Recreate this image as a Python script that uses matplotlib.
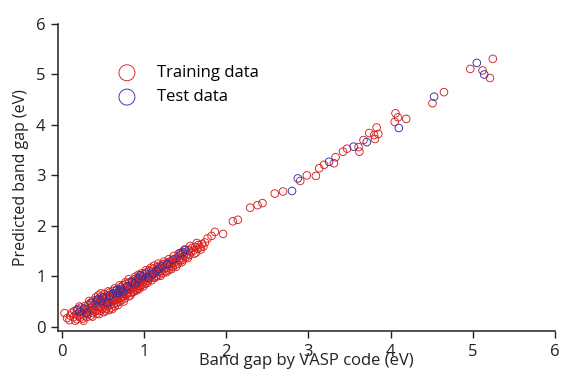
import numpy as np
import matplotlib
matplotlib.use("Agg")
import matplotlib.pyplot as plt

plt.rcParams['font.family'] = ['Open Sans', 'DejaVu Sans']

# Training data: (VASP band gap, predicted band gap) in eV
train_pts = [
    (0.03, 0.27), (0.06, 0.17), (0.09, 0.13), (0.10, 0.22), (0.12, 0.28), (0.14, 0.19),
    (0.15, 0.31), (0.17, 0.24), (0.18, 0.15), (0.19, 0.35), (0.20, 0.21), (0.21, 0.29),
    (0.22, 0.18), (0.23, 0.38), (0.24, 0.26), (0.25, 0.16), (0.26, 0.33), (0.27, 0.22),
    (0.28, 0.41), (0.29, 0.28), (0.30, 0.19), (0.30, 0.35), (0.31, 0.25),
    (0.32, 0.44), (0.33, 0.30), (0.34, 0.37), (0.35, 0.22), (0.35, 0.48), (0.36, 0.33),
    (0.37, 0.41), (0.38, 0.27), (0.38, 0.52), (0.39, 0.36), (0.40, 0.45), (0.40, 0.30),
    (0.41, 0.58), (0.42, 0.39), (0.42, 0.26), (0.43, 0.49), (0.44, 0.34), (0.44, 0.62),
    (0.45, 0.42), (0.46, 0.31), (0.46, 0.53), (0.47, 0.38), (0.48, 0.47), (0.48, 0.60),
    (0.49, 0.35), (0.50, 0.44), (0.50, 0.55), (0.51, 0.29), (0.51, 0.65), (0.52, 0.40),
    (0.52, 0.50), (0.53, 0.58), (0.54, 0.36), (0.54, 0.46), (0.55, 0.62), (0.55, 0.53),
    (0.56, 0.42), (0.57, 0.33), (0.57, 0.57), (0.58, 0.49), (0.58, 0.68), (0.59, 0.44),
    (0.60, 0.55), (0.60, 0.38), (0.61, 0.63), (0.62, 0.50), (0.62, 0.71), (0.63, 0.45),
    (0.63, 0.58), (0.64, 0.40),
    (0.65, 0.66), (0.65, 0.53), (0.66, 0.47), (0.67, 0.74), (0.67, 0.60), (0.68, 0.55),
    (0.69, 0.69), (0.69, 0.49), (0.70, 0.63), (0.71, 0.78), (0.71, 0.57), (0.72, 0.68),
    (0.72, 0.52), (0.73, 0.73), (0.74, 0.61), (0.74, 0.82), (0.75, 0.66), (0.76, 0.56),
    (0.76, 0.76), (0.77, 0.70), (0.78, 0.63), (0.78, 0.85), (0.79, 0.74), (0.80, 0.68),
    (0.80, 0.79), (0.81, 0.60), (0.82, 0.88), (0.82, 0.73), (0.83, 0.78), (0.84, 0.67),
    (0.84, 0.83), (0.85, 0.91), (0.86, 0.76), (0.86, 0.70), (0.87, 0.86), (0.88, 0.80),
    (0.88, 0.94), (0.89, 0.73), (0.90, 0.89), (0.90, 0.83), (0.91, 0.77), (0.92, 0.97),
    (0.92, 0.87), (0.93, 0.81), (0.94, 0.92), (0.94, 0.75), (0.95, 0.86), (0.96, 1.00),
    (0.96, 0.90), (0.97, 0.83), (0.98, 0.95), (0.99, 0.88),
    (1.00, 1.04), (1.00, 0.93), (1.01, 0.85), (1.02, 0.98), (1.03, 1.08), (1.04, 0.91),
    (1.05, 1.01), (1.06, 0.95), (1.06, 1.12), (1.07, 1.05), (1.08, 0.99), (1.09, 0.92),
    (1.10, 1.09), (1.10, 1.02), (1.11, 1.15), (1.12, 0.97), (1.13, 1.06), (1.14, 1.11),
    (1.15, 1.01), (1.16, 1.18), (1.17, 1.08), (1.18, 1.13), (1.18, 1.03), (1.19, 1.21),
    (1.20, 1.10), (1.21, 1.16), (1.22, 1.06), (1.23, 1.24), (1.24, 1.14), (1.25, 1.19),
    (1.26, 1.10), (1.27, 1.26), (1.28, 1.17), (1.29, 1.22), (1.30, 1.13), (1.31, 1.29),
    (1.32, 1.20), (1.33, 1.25), (1.34, 1.31), (1.35, 1.18), (1.36, 1.27), (1.37, 1.34),
    (1.38, 1.23), (1.39, 1.29),
    (1.40, 1.37), (1.41, 1.25), (1.42, 1.32), (1.43, 1.41), (1.44, 1.30), (1.45, 1.36),
    (1.46, 1.44), (1.47, 1.33), (1.48, 1.40), (1.50, 1.47), (1.51, 1.38), (1.52, 1.44),
    (1.54, 1.52), (1.55, 1.42), (1.57, 1.49), (1.58, 1.56), (1.60, 1.51), (1.62, 1.58),
    (1.63, 1.47), (1.65, 1.55), (1.66, 1.62), (1.68, 1.57), (1.70, 1.64), (1.72, 1.59),
    (1.74, 1.67),
    # extra points filling the dense band
    (0.16, 0.12), (0.21, 0.40), (0.26, 0.12), (0.33, 0.51), (0.37, 0.20), (0.41, 0.48),
    (0.45, 0.25), (0.47, 0.66), (0.49, 0.52), (0.53, 0.32), (0.56, 0.70), (0.59, 0.60),
    (0.61, 0.35), (0.64, 0.76), (0.66, 0.63), (0.68, 0.43), (0.70, 0.82), (0.73, 0.58),
    (0.75, 0.50), (0.77, 0.88), (0.79, 0.65), (0.81, 0.94), (0.83, 0.62), (0.85, 0.80),
    (0.87, 0.69), (0.89, 0.99), (0.91, 0.72), (0.93, 1.03), (0.95, 0.79), (0.97, 1.06),
    (0.99, 0.80), (1.02, 1.12), (1.04, 0.87), (1.08, 1.17), (1.12, 1.21), (1.14, 0.98),
    (1.17, 1.25), (1.20, 1.01), (1.24, 1.29), (1.27, 1.08), (1.30, 1.34), (1.33, 1.14),
    (1.36, 1.40), (1.39, 1.19), (1.42, 1.45), (1.46, 1.28), (1.49, 1.53), (1.53, 1.36),
    (1.56, 1.60), (1.61, 1.45), (1.64, 1.66), (1.69, 1.53),
    (1.77, 1.75), (1.82, 1.80), (1.86, 1.88), (1.96, 1.84), (2.08, 2.09), (2.14, 2.12),
    (2.29, 2.36), (2.38, 2.41), (2.44, 2.45), (2.59, 2.64), (2.69, 2.68), (2.90, 2.89),
    (2.98, 3.00), (3.09, 2.99), (3.13, 3.14), (3.19, 3.21), (3.31, 3.24), (3.33, 3.36),
    (3.42, 3.47), (3.47, 3.53), (3.61, 3.56), (3.62, 3.47), (3.67, 3.70), (3.74, 3.84),
    (3.80, 3.80), (3.81, 3.72), (3.83, 3.95), (3.85, 3.82), (4.05, 4.06), (4.06, 4.23),
    (4.09, 4.15), (4.19, 4.12), (4.51, 4.43), (4.65, 4.65), (4.97, 5.11), (5.12, 5.08),
    (5.21, 4.93), (5.245, 5.31),
]

test_pts = [
    (0.18, 0.33), (0.22, 0.30), (0.27, 0.36), (0.30, 0.28), (0.36, 0.46), (0.42, 0.52),
    (0.44, 0.55), (0.47, 0.50), (0.50, 0.58), (0.55, 0.48), (0.58, 0.62), (0.62, 0.66),
    (0.66, 0.72), (0.68, 0.67), (0.70, 0.72), (0.72, 0.75), (0.74, 0.70), (0.79, 0.80),
    (0.85, 0.88), (0.89, 0.86), (0.93, 0.95), (0.95, 1.02), (0.98, 1.00), (1.02, 1.05),
    (1.05, 0.97), (1.10, 1.05), (1.15, 1.10), (1.18, 1.15), (1.22, 1.20), (1.28, 1.24),
    (1.35, 1.33), (1.44, 1.46), (1.47, 1.48), (1.50, 1.52),
    (2.80, 2.69), (2.87, 2.94), (3.25, 3.27), (3.55, 3.57), (3.71, 3.66), (4.10, 3.94),
    (4.53, 4.56), (5.05, 5.23), (5.14, 5.00),
]

train_x, train_y = np.array(train_pts).T
test_x, test_y = np.array(test_pts).T

fig = plt.figure(figsize=(5.61, 3.70), dpi=100)
ax = fig.add_axes([0.1034, 0.1054, 0.8856, 0.8296])

ax.scatter(train_x, train_y, s=30, facecolors='none', edgecolors='#d42020',
           linewidths=0.65, label='Training data')
ax.scatter(test_x, test_y, s=30, facecolors='none', edgecolors='#3030a8',
           linewidths=0.65, label='Test data')

ax.set_xlim(-0.05, 6.0)
ax.set_ylim(-0.085, 6.0)
ax.set_xticks(range(0, 7))
ax.set_yticks(range(0, 7))
for side in ('top', 'right'):
    ax.spines[side].set_visible(False)
ax.spines['left'].set_bounds(-0.085, 6)
ax.spines['bottom'].set_bounds(-0.05, 6)
for side in ('left', 'bottom'):
    ax.spines[side].set_linewidth(1.1)
    ax.spines[side].set_color('#222222')
ax.tick_params(direction='out', length=5, width=1, colors='#222222',
               labelsize=12, pad=4)
ax.tick_params(axis='x', pad=4)

ax.set_xlabel('Band gap by VASP code (eV)', fontsize=12, labelpad=-5, color='#222222')
ax.set_ylabel('Predicted band gap (eV)', fontsize=11.5, labelpad=5, color='#222222')

leg = ax.legend(loc='upper left', bbox_to_anchor=(0.075, 0.915), frameon=False,
                markerscale=2.1, fontsize=12, handletextpad=0.8, labelspacing=0.5)

fig.savefig('out.png', dpi=100)
